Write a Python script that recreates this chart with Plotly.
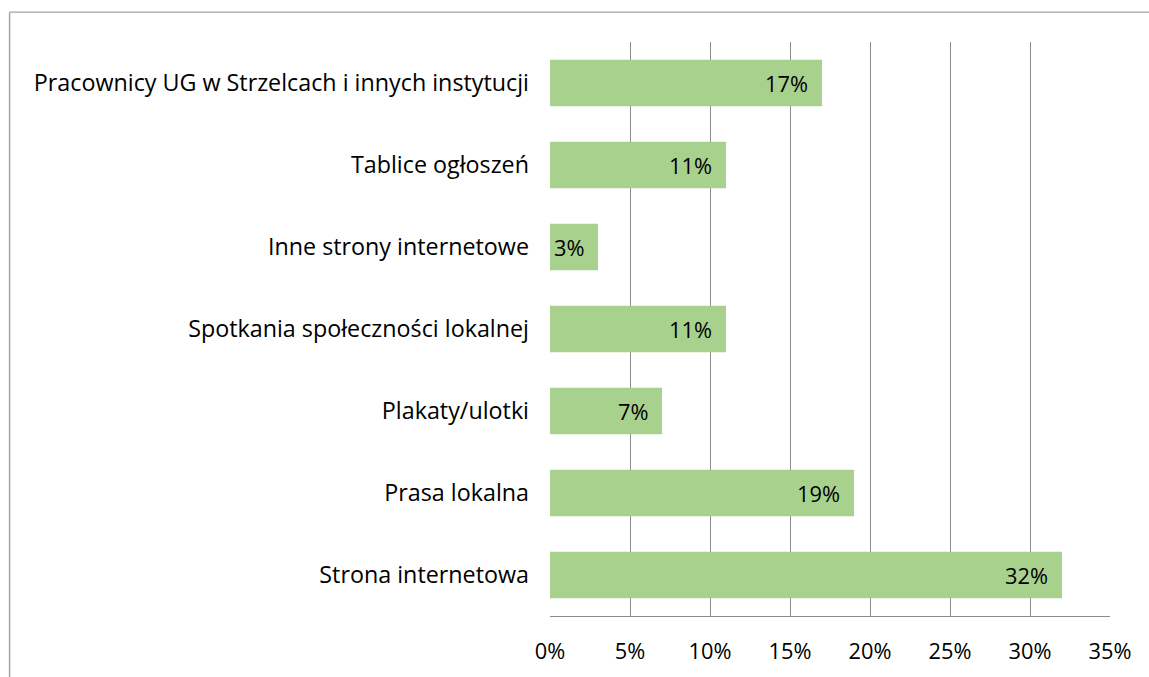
import plotly.graph_objects as go

# Survey answers: where respondents get local information
categories = [
    "Pracownicy UG w Strzelcach i innych instytucji",
    "Tablice ogłoszeń",
    "Inne strony internetowe",
    "Spotkania społeczności lokalnej",
    "Plakaty/ulotki",
    "Prasa lokalna",
    "Strona internetowa",
]
shares = [0.17, 0.11, 0.03, 0.11, 0.07, 0.19, 0.32]
tick_values = [0, 0.05, 0.10, 0.15, 0.20, 0.25, 0.30, 0.35]
tick_labels = ["0%", "5%", "10%", "15%", "20%", "25%", "30%", "35%"]

FONT = "Open Sans"
FONT_SIZE = 23.3
BAR_COLOR = "#a9d18e"
GRID_COLOR = "#8c8c8c"

fig = go.Figure()
fig.add_trace(go.Bar(
    x=shares,
    y=categories,
    orientation="h",
    marker=dict(color=BAR_COLOR, line=dict(width=0)),
    width=0.57,
    hoverinfo="skip",
))

# value labels placed just inside the end of each bar
for cat, val in zip(categories, shares):
    fig.add_annotation(
        x=val, y=cat, xref="x", yref="y",
        text=f"{round(val * 100)}%",
        showarrow=False, xanchor="right", xshift=-12,
        font=dict(family=FONT, size=FONT_SIZE - 1.5, color="#000000"),
    )

# outer chart frame (top and left edges)
fig.add_shape(type="line", xref="paper", yref="paper",
              x0=-0.965, x1=1.1, y0=1.052, y1=1.052,
              line=dict(color="#a6a6a6", width=1.2))
fig.add_shape(type="line", xref="paper", yref="paper",
              x0=-0.965, x1=-0.965, y0=-0.2, y1=1.052,
              line=dict(color="#a6a6a6", width=1.5))

fig.update_layout(
    width=1149, height=677,
    margin=dict(l=550, r=39, t=42, b=59),
    paper_bgcolor="white", plot_bgcolor="white",
    showlegend=False,
    bargap=0.43,
    font=dict(family=FONT, size=FONT_SIZE, color="#000000"),
    xaxis=dict(
        range=[0, 0.35],
        tickvals=tick_values, ticktext=tick_labels,
        showgrid=True, gridcolor=GRID_COLOR, gridwidth=1,
        zeroline=False,
        showline=True, linecolor=GRID_COLOR, linewidth=1, mirror=False,
        ticks="", ticklabelstandoff=16,
        tickfont=dict(family=FONT, size=FONT_SIZE - 1.5, color="#000000"),
        fixedrange=True,
    ),
    yaxis=dict(
        categoryorder="array", categoryarray=categories[::-1],
        showgrid=False, zeroline=False, showline=False,
        ticks="", ticklabelstandoff=20,
        tickfont=dict(family=FONT, size=FONT_SIZE, color="#000000"),
        fixedrange=True,
    ),
)

fig.write_html("out.html")
